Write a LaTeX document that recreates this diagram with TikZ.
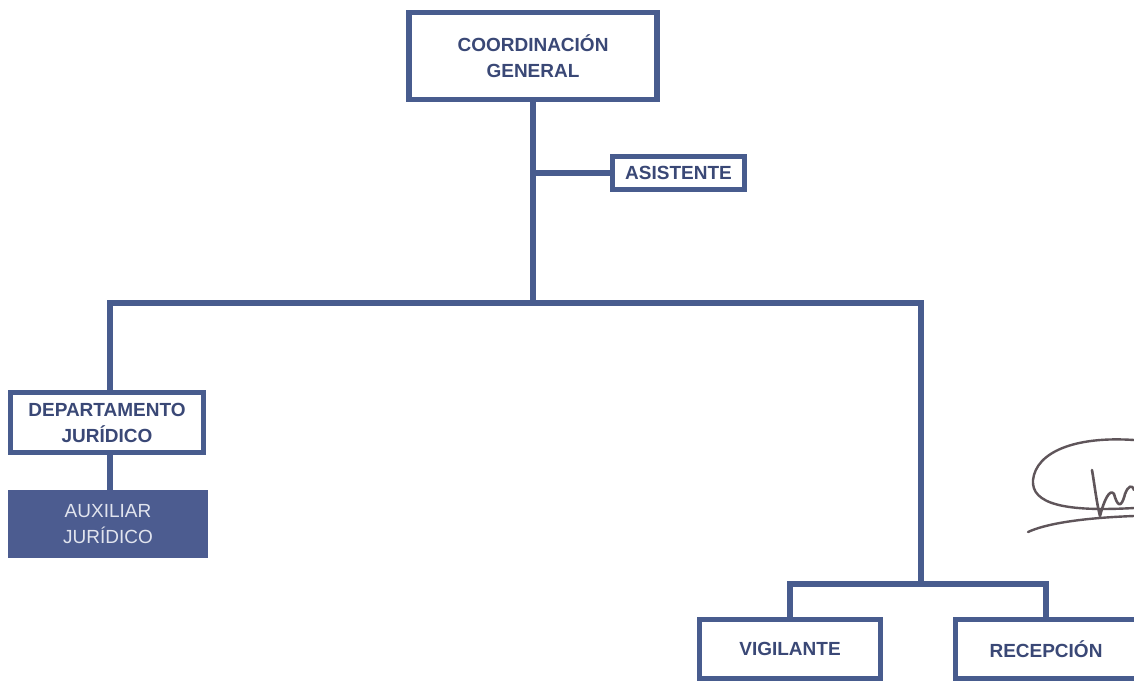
\documentclass[tikz,border=0pt]{standalone}
\usepackage{fontspec}
\setmainfont{Liberation Sans}
\definecolor{bline}{RGB}{72,92,142}
\definecolor{btext}{RGB}{58,72,118}
\definecolor{bfill}{RGB}{76,92,144}
\definecolor{auxtext}{RGB}{225,228,238}
\definecolor{sig}{RGB}{95,85,90}
\tikzset{
  box/.style={draw=bline, line width=5.5pt, fill=white, align=center, inner sep=0pt,
    font=\fontsize{19}{26}\selectfont\bfseries, text=btext},
  filledbox/.style={draw=bfill, fill=bfill, line width=2pt, align=center, inner sep=0pt,
    font=\fontsize{19}{26}\selectfont, text=auxtext},
  conn/.style={draw=bline, line width=5.5pt},
}
\begin{document}
\begin{tikzpicture}[x=1pt,y=-1pt]
\useasboundingbox (0,0) rectangle (1134,680);
\clip (0,0) rectangle (1134,680);
\fill[white] (0,0) rectangle (1134,680);
% nodes
\node[box, minimum width=248pt, minimum height=87pt] (cg) at (533,56) {COORDINACIÓN\\GENERAL};
\node[box, minimum width=132pt, minimum height=33pt] (as) at (678.5,173) {ASISTENTE};
\node[box, minimum width=193pt, minimum height=60pt] (dj) at (107,422.5) {DEPARTAMENTO\\JURÍDICO};
\node[filledbox, minimum width=198pt, minimum height=66pt] (aj) at (108,524) {AUXILIAR\\JURÍDICO};
\node[box, minimum width=181pt, minimum height=59pt] (vg) at (790,649) {VIGILANTE};
\node[box, minimum width=181pt, minimum height=59pt] (rc) at (1046,649) {RECEPCIÓN};
% connector coordinates
\coordinate (top) at (533,303);
\coordinate (lft) at (110,303);
\coordinate (rgt) at (921,303);
\coordinate (rbot) at (921,584);
\coordinate (asj) at (533,173);
% connectors
\draw[conn] (cg.south) -- (top);
\draw[conn] (asj) -- (as.west);
\draw[conn, line cap=rect] (lft) -- (rgt);
\draw[conn] (lft) -- (dj.north -| lft);
\draw[conn] (dj.south -| lft) -- (aj.north -| lft);
\draw[conn] (rgt) -- (rbot);
\draw[conn] (vg.north) |- (rbot) -| (rc.north);
% signature
\draw[sig, line width=2.4pt, line cap=round, line join=round]
  (1134,440) .. controls (1075,436) and (1036,452) .. (1033,480)
  .. controls (1031,504) and (1065,512) .. (1134,508);
\draw[sig, line width=2.4pt, line cap=round]
  (1028,532) .. controls (1045,524) and (1080,518) .. (1134,516);
\draw[sig, line width=2.6pt, line cap=round, line join=round]
  (1092,470) .. controls (1095,488) and (1097,505) .. (1100,516)
  .. controls (1104,500) and (1110,488) .. (1114,494)
  .. controls (1117,505) and (1121,510) .. (1125,494)
  .. controls (1128,486) and (1132,484) .. (1134,490);
\end{tikzpicture}
\end{document}
